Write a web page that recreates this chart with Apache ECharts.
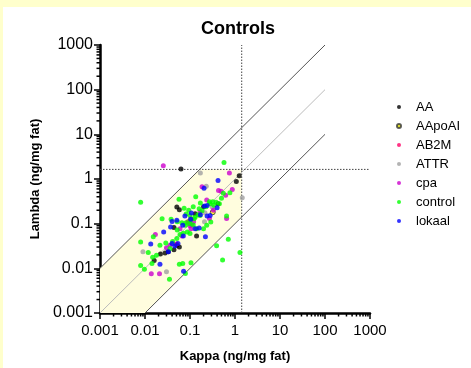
<!DOCTYPE html>
<html><head><meta charset="utf-8">
<script src="https://cdn.jsdelivr.net/npm/echarts@6/dist/echarts.min.js"></script>
<style>
html,body{margin:0;padding:0;background:#FFFFCC;width:471px;height:368px;overflow:hidden}
#panel{position:absolute;left:3px;top:7px;right:0;bottom:0;background:#fff}
#c{position:absolute;left:0;top:0;width:471px;height:368px}
</style></head><body>
<div id="panel"></div><div id="c"></div>
<script>
// ---- data (kappa, lambda) in ng/mg fat ----
const AA = [[0.063,1.67],[1.24,1.18],[1.07,0.88],[0.42,0.28],[0.051,0.235],[0.058,0.205],[0.13,0.167],[0.2,0.24],[0.044,0.082],[0.14,0.053],[0.051,0.033],[0.058,0.030],[0.044,0.026],[0.033,0.0235],[0.028,0.022],[0.022,0.021],[0.016,0.015]];
const AApoAI = [[0.32,0.18]];
const AB2M = [[0.09,0.11],[0.05,0.035]];
const ATTR = [[0.17,1.36],[0.23,0.69],[1.45,0.38],[0.009,0.0235],[0.030,0.0084],[0.31,0.24],[0.21,0.11],[0.215,0.175]];
const cpa = [[0.0255,1.97],[0.75,1.36],[0.185,0.67],[0.43,0.55],[0.49,0.53],[0.87,0.58],[0.62,0.43],[0.235,0.34],[0.33,0.2],[0.65,0.13],[0.066,0.053],[0.017,0.057],[0.036,0.033],[0.030,0.029],[0.0138,0.0076],[0.021,0.0076],[0.104,0.129],[0.11,0.095],[0.27,0.13],[0.06,0.077],[0.167,0.182],[0.1,0.09],[0.105,0.077],[0.12,0.11]];
const control = [[0.57,2.35],[0.008,0.30],[0.057,0.35],[0.134,0.40],[0.17,0.29],[0.55,0.48],[0.77,0.49],[0.074,0.22],[0.118,0.24],[0.16,0.215],[0.024,0.129],[0.0153,0.051],[0.008,0.039],[0.0118,0.0227],[0.018,0.0197],[0.0148,0.0176],[0.0143,0.0129],[0.008,0.0115],[0.0097,0.0096],[0.069,0.0129],[0.105,0.0134],[0.079,0.0077],[0.035,0.0057],[0.39,0.032],[0.71,0.045],[0.53,0.0153],[1.29,0.0227],[0.65,0.148],[0.0815,0.105],[0.1,0.117],[0.123,0.129],[0.151,0.158],[0.185,0.195],[0.227,0.239],[0.278,0.278],[0.27,0.31],[0.32,0.31],[0.38,0.30],[0.45,0.28],[0.5,0.37],[0.34,0.26],[0.094,0.2],[0.082,0.164],[0.1,0.153],[0.13,0.14],[0.167,0.153],[0.038,0.125],[0.052,0.11],[0.066,0.105],[0.079,0.092],[0.1,0.1],[0.118,0.093],[0.052,0.072],[0.06,0.057],[0.071,0.061],[0.087,0.065],[0.1,0.06],[0.14,0.077],[0.051,0.0464],[0.041,0.04],[0.036,0.0278],[0.029,0.037],[0.0215,0.033],[0.058,0.0123],[0.2,0.077],[0.235,0.092],[0.29,0.109]];
const lokaal = [[0.42,0.92],[0.205,0.62],[0.21,0.25],[0.24,0.255],[0.28,0.153],[0.107,0.173],[0.077,0.148],[0.04,0.112],[0.051,0.119],[0.037,0.084],[0.069,0.092],[0.13,0.077],[0.16,0.08],[0.22,0.051],[0.026,0.065],[0.0134,0.035],[0.04,0.036],[0.046,0.0315],[0.033,0.0235],[0.0215,0.0123],[0.072,0.0086],[0.24,0.148],[0.17,0.158],[0.054,0.036],[0.4,0.227],[0.104,0.125],[0.071,0.053]];

const groupNames = ['AA','AApoAI','AB2M','ATTR','cpa','control','lokaal'];
const groupData = [AA, AApoAI, AB2M, ATTR, cpa, control, lokaal];
const groupColors = ['#000000','#FFFF00','#FF0066','#A0A0A0','#CC00CC','#00FF00','#0000FF'];

const axisMin = 0.001, axisMax = 1000;
const tickValues = [0.001,0.01,0.1,1,10,100,1000];
const upperLine = [[0.001,0.01],[100,1000]];
const identityLine = [[0.001,0.001],[100,100]];
const lowerLine = [[0.01,0.001],[100,10]];
const kappaCutoff = 1.41;
const lambdaCutoff = 1.64;
const shadeRegion = [[0.001,0.001],[0.001,0.01],[0.164,1.64],[1.41,1.64],[1.41,0.141],[0.01,0.001]];

// minor tick values 2..9 x 10^k
const minorValues = [];
for (let e = -3; e < 3; e++) for (let m = 2; m <= 9; m++) minorValues.push(m * Math.pow(10, e));

const fmt = v => String(+(+v).toPrecision(3));

const chart = echarts.init(document.getElementById('c'), null, {renderer:'canvas'});
const series = [];
series.push({
  type:'custom', name:'shade', silent:true, z:1,
  data:[[0,0]],
  renderItem:(params, api) => ({
    type:'polygon',
    shape:{points: shadeRegion.map(p => api.coord(p))},
    style:{fill:'#FFFDDE', stroke:null}
  })
});
series.push({type:'line', name:'upper', data:upperLine, symbol:'none', silent:true, z:2,
  lineStyle:{color:'#555', width:1}});
series.push({type:'line', name:'identity', data:identityLine, symbol:'none', silent:true, z:2,
  lineStyle:{color:'#BBBBBB', width:1}});
series.push({type:'line', name:'lower', data:lowerLine, symbol:'none', silent:true, z:2,
  lineStyle:{color:'#555', width:1}});
series.push({type:'line', name:'vcut', data:[[kappaCutoff,axisMin],[kappaCutoff,axisMax]], symbol:'none', silent:true, z:2,
  lineStyle:{color:'#444', width:1, type:[1.5,1.5]}});
series.push({type:'line', name:'hcut', data:[[axisMin,lambdaCutoff],[axisMax,lambdaCutoff]], symbol:'none', silent:true, z:2,
  lineStyle:{color:'#444', width:1, type:[1.5,1.5]}});
// minor ticks
series.push({
  type:'custom', name:'xminor', silent:true, clip:false, z:5,
  data: minorValues.map(v => [v, axisMin]),
  renderItem:(params, api) => {
    const p = api.coord([api.value(0), axisMin]);
    return {type:'line', shape:{x1:p[0], y1:p[1], x2:p[0], y2:p[1]+3.5}, style:{stroke:'#000', lineWidth:1.5}};
  }
});
series.push({
  type:'custom', name:'yminor', silent:true, clip:false, z:5,
  data: minorValues.map(v => [axisMin, v]),
  renderItem:(params, api) => {
    const p = api.coord([axisMin, api.value(1)]);
    return {type:'line', shape:{x1:p[0], y1:p[1], x2:p[0]-3.5, y2:p[1]}, style:{stroke:'#000', lineWidth:1.5}};
  }
});
groupNames.forEach((n, i) => {
  series.push({
    type:'scatter', name:n, data:groupData[i], symbol:'circle', symbolSize:5, z:10,
    itemStyle: n === 'AApoAI' ? {color:groupColors[i], borderColor:'#333', borderWidth:1} : {color:groupColors[i]}
  });
});

const axisCommon = {
  type:'log', logBase:10, min:axisMin, max:axisMax,
  splitLine:{show:false},
  axisLine:{show:true, onZero:false, lineStyle:{color:'#000', width:2.5}},
  axisTick:{show:true, inside:false, length:6, lineStyle:{color:'#000', width:1.5}},
  axisLabel:{color:'#000', fontSize:15, fontFamily:'Liberation Sans, Arial, sans-serif', formatter: fmt},
  nameLocation:'middle',
  nameTextStyle:{color:'#000', fontSize:13, fontWeight:'bold', fontFamily:'Liberation Sans, Arial, sans-serif'}
};

chart.setOption({
  animation:false,
  title:{text:'Controls', left:233, top:15, textAlign:'center',
    textStyle:{fontSize:18, fontWeight:'bold', color:'#000', fontFamily:'Liberation Sans, Arial, sans-serif'}},
  grid:{left:100, top:45, width:270, height:270, containLabel:false},
  legend:{
    data: groupNames.map((n,i) => ({name:n, icon:'circle'})),
    orient:'vertical', left:391, top:95, itemWidth:4, itemHeight:4, itemGap:5,
    textStyle:{fontSize:13, color:'#000', lineHeight:14, fontFamily:'Liberation Sans, Arial, sans-serif', padding:[0,0,0,10]}
  },
  xAxis: Object.assign({}, axisCommon, {name:'Kappa (ng/mg fat)', nameGap:37,
    axisLabel:Object.assign({}, axisCommon.axisLabel, {margin:10})}),
  yAxis: Object.assign({}, axisCommon, {name:'Lambda (ng/mg fat)', nameGap:55,
    axisLabel:Object.assign({}, axisCommon.axisLabel, {fontSize:16, margin:7})}),
  series: series
});
</script></body></html>
